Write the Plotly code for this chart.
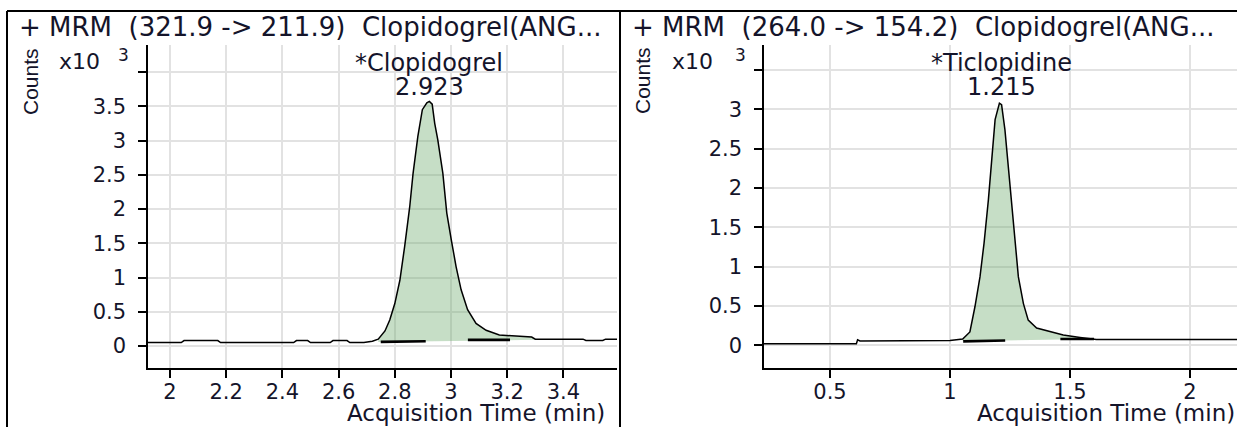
import plotly.graph_objects as go

W, H = 1237, 427

# ---------------- data ----------------
panel_titles = ["+ MRM  (321.9 -> 211.9)  Clopidogrel(ANG...",
                "+ MRM  (264.0 -> 154.2)  Clopidogrel(ANG..."]
compound_names = ["*Clopidogrel", "*Ticlopidine"]
retention_times = [2.923, 1.215]

t1 = [1.92, 2.04, 2.05, 2.17, 2.18, 2.44, 2.45, 2.49, 2.50, 2.57, 2.58, 2.63, 2.64,
      2.69, 2.72, 2.741, 2.765, 2.782, 2.80, 2.818, 2.835, 2.853, 2.865, 2.882,
      2.898, 2.914, 2.923, 2.933, 2.942, 2.953, 2.971, 2.985, 3.001, 3.018, 3.036,
      3.059, 3.089, 3.125, 3.172, 3.242, 3.287, 3.30, 3.47, 3.48, 3.54, 3.55, 3.60]
c1 = [0.05, 0.05, 0.08, 0.08, 0.05, 0.05, 0.08, 0.08, 0.05, 0.05, 0.08, 0.08, 0.05,
      0.05, 0.07, 0.10, 0.22, 0.38, 0.62, 0.96, 1.45, 2.03, 2.52, 3.06,
      3.45, 3.55, 3.57, 3.53, 3.25, 3.01, 2.52, 1.94, 1.55, 1.16, 0.82,
      0.53, 0.33, 0.23, 0.16, 0.14, 0.13, 0.10, 0.10, 0.08, 0.08, 0.10, 0.10]
peak1_start, peak1_end = 2.741, 3.30
base1_segments = [([2.75, 2.91], [0.06, 0.07]), ([3.06, 3.21], [0.09, 0.09])]

t2 = [0.22, 0.61, 0.615, 0.625, 1.0, 1.053, 1.083, 1.104, 1.125, 1.142, 1.160, 1.174,
      1.188, 1.206, 1.215, 1.229, 1.243, 1.257, 1.271, 1.285, 1.306, 1.326, 1.361,
      1.417, 1.472, 1.542, 1.590, 1.61, 2.21]
c2 = [0.02, 0.02, 0.07, 0.055, 0.06, 0.08, 0.17, 0.49, 0.87, 1.30, 1.85, 2.40,
      2.87, 3.08, 3.06, 2.74, 2.27, 1.76, 1.30, 0.87, 0.53, 0.32, 0.22,
      0.17, 0.13, 0.10, 0.08, 0.075, 0.075]
peak2_start, peak2_end = 1.053, 1.60
base2_segments = [([1.055, 1.23], [0.05, 0.06]), ([1.46, 1.60], [0.08, 0.08])]

x1_ticks = [2, 2.2, 2.4, 2.6, 2.8, 3, 3.2, 3.4]
x1_ticktext = ["2", "2.2", "2.4", "2.6", "2.8", "3", "3.2", "3.4"]
y1_ticks = [0, 0.5, 1, 1.5, 2, 2.5, 3, 3.5, 4]
y1_ticktext = ["0", "0.5", "1", "1.5", "2", "2.5", "3", "3.5", ""]
x2_ticks = [0.5, 1, 1.5, 2]
x2_ticktext = ["0.5", "1", "1.5", "2"]
y2_ticks = [0, 0.5, 1, 1.5, 2, 2.5, 3, 3.5]
y2_ticktext = ["0", "0.5", "1", "1.5", "2", "2.5", "3", ""]

# ---------------- styling ----------------
FONT = "DejaVu Sans"
TXT = "#14142a"
FILL = "rgba(112,172,112,0.4)"
GRID = "#e2e2e2"


def px(xp):
    return xp / W


def py(yp):
    return 1 - yp / H


fig = go.Figure()


def add_panel(t, c, pstart, pend, segs, xa, ya):
    idx = [i for i, v in enumerate(t) if pstart <= v <= pend]
    fx = [t[i] for i in idx]
    fy = [c[i] for i in idx]
    fx = fx + [fx[-1], fx[0]]
    fy = fy + [segs[-1][1][-1], segs[0][1][0]]
    fig.add_trace(go.Scatter(x=fx, y=fy, mode="lines", fill="toself",
                             fillcolor=FILL, line=dict(width=0),
                             xaxis=xa, yaxis=ya, hoverinfo="skip"))
    for sx, sy in segs:
        fig.add_trace(go.Scatter(x=sx, y=sy, mode="lines",
                                 line=dict(color="black", width=2.6),
                                 xaxis=xa, yaxis=ya))
    fig.add_trace(go.Scatter(x=t, y=c, mode="lines",
                             line=dict(color="black", width=1.5),
                             xaxis=xa, yaxis=ya))


add_panel(t1, c1, peak1_start, peak1_end, base1_segments, "x", "y")
add_panel(t2, c2, peak2_start, peak2_end, base2_segments, "x2", "y2")

axis_common = dict(showline=True, linecolor="black", linewidth=1.5,
                   ticks="outside", ticklen=8, tickwidth=1.5, tickcolor="black",
                   showgrid=True, gridcolor=GRID, gridwidth=2, zeroline=False,
                   tickfont=dict(family=FONT, size=21, color=TXT), fixedrange=True)

fig.update_layout(
    width=W, height=H, margin=dict(l=0, r=0, t=0, b=0),
    paper_bgcolor="white", plot_bgcolor="white", showlegend=False,
    xaxis=dict(domain=[px(148), px(617)], range=[1.9217, 3.5907],
               tickmode="array", tickvals=x1_ticks, ticktext=x1_ticktext,
               ticklabelstandoff=-4, anchor="y", **axis_common),
    yaxis=dict(domain=[py(368), py(45)], range=[-0.321, 4.394],
               tickmode="array", tickvals=y1_ticks, ticktext=y1_ticktext,
               ticklabelstandoff=8, anchor="x", **axis_common),
    xaxis2=dict(domain=[px(764), 1.0], range=[0.225, 2.196],
                tickmode="array", tickvals=x2_ticks, ticktext=x2_ticktext,
                ticklabelstandoff=-4, anchor="y2", **axis_common),
    yaxis2=dict(domain=[py(368), py(45)], range=[-0.289, 3.82],
                tickmode="array", tickvals=y2_ticks, ticktext=y2_ticktext,
                ticklabelstandoff=8, anchor="x2", **axis_common),
)

# frame lines
for shp in [dict(x0=px(7), x1=1, y0=py(11), y1=py(11)),
            dict(x0=px(7), x1=px(7), y0=0, y1=py(11)),
            dict(x0=px(620), x1=px(620), y0=0, y1=py(11))]:
    fig.add_shape(type="line", xref="paper", yref="paper",
                  line=dict(color="black", width=2), **shp)

ann = []
title_x = [17, 630]
counts_x = [30, 642]
x10_x = [57, 670]
sup_x = [123, 740]
xtitle_right = [606, 1236]
for i in range(2):
    ann.append(dict(x=px(title_x[i]), y=py(27), xref="paper", yref="paper",
                    text=panel_titles[i], showarrow=False, xanchor="left",
                    yanchor="middle", font=dict(family=FONT, size=26, color=TXT)))
    ann.append(dict(x=px(counts_x[i]), y=py(81), xref="paper", yref="paper",
                    text="Counts", showarrow=False, textangle=-90,
                    xanchor="center", yanchor="middle",
                    font=dict(family="Liberation Sans", size=21, color=TXT)))
    ann.append(dict(x=px(x10_x[i]), y=py(62), xref="paper", yref="paper",
                    text="x10", showarrow=False, xanchor="left", yanchor="middle",
                    font=dict(family=FONT, size=22, color=TXT)))
    ann.append(dict(x=px(sup_x[i]), y=py(55), xref="paper", yref="paper",
                    text="3", showarrow=False, xanchor="center", yanchor="middle",
                    font=dict(family=FONT, size=17, color=TXT)))
    ann.append(dict(x=px(xtitle_right[i]), y=0, xref="paper", yref="paper",
                    text="Acquisition Time (min)", showarrow=False,
                    xanchor="right", yanchor="bottom", borderpad=0,
                    font=dict(family=FONT, size=23, color=TXT)))
    xr = "x" if i == 0 else "x2"
    ann.append(dict(x=retention_times[i], y=py(63), xref=xr, yref="paper",
                    text=compound_names[i], showarrow=False, xanchor="center",
                    yanchor="middle", font=dict(family=FONT, size=24, color=TXT)))
    ann.append(dict(x=retention_times[i], y=py(87), xref=xr, yref="paper",
                    text=f"{retention_times[i]:.3f}", showarrow=False,
                    xanchor="center", yanchor="middle",
                    font=dict(family=FONT, size=24, color=TXT)))
fig.update_layout(annotations=ann)

fig.write_html("out.html",
               config={"displayModeBar": False},
               post_script="document.body.style.margin='0';"
                           "document.body.style.overflow='hidden';")
